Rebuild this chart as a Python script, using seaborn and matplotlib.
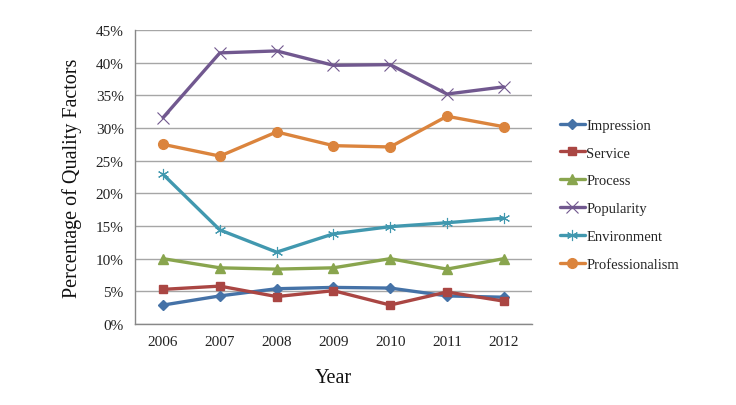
import matplotlib
matplotlib.use("Agg")
import matplotlib.pyplot as plt
import seaborn as sns
import pandas as pd
import numpy as np
from matplotlib.ticker import FixedLocator

years = ["2006", "2007", "2008", "2009", "2010", "2011", "2012"]
impression = [2.9, 4.3, 5.4, 5.6, 5.5, 4.3, 4.1]
service = [5.3, 5.8, 4.2, 5.1, 2.9, 4.9, 3.5]
process = [10.0, 8.6, 8.4, 8.6, 10.0, 8.4, 10.0]
popularity = [31.6, 41.5, 41.8, 39.6, 39.7, 35.2, 36.3]
environment = [22.9, 14.4, 11.0, 13.8, 14.9, 15.5, 16.2]
professionalism = [27.5, 25.7, 29.4, 27.3, 27.1, 31.8, 30.2]

series_names = ["Impression", "Service", "Process", "Popularity", "Environment", "Professionalism"]
series_vals = [impression, service, process, popularity, environment, professionalism]
colors = ["#4572A7", "#AA4643", "#89A54E", "#71588F", "#4198AF", "#DB843D"]
markers = ["D", "s", "^", "x", (6, 2, 0), "o"]
msizes = [5, 6, 7, 8, 8, 7]
mews = [1.0, 1.0, 1.0, 0.8, 0.8, 1.0]

rows = []
for name, vals in zip(series_names, series_vals):
    for i, (y, v) in enumerate(zip(years, vals)):
        rows.append({"Year": y, "pos": i, "Value": v, "Series": name})
df = pd.DataFrame(rows)

sns.set_theme(style="white")
plt.rcParams["font.family"] = ["Liberation Serif", "DejaVu Serif"]

fig = plt.figure(figsize=(7.36, 4.06), dpi=100)
fig.patch.set_facecolor("white")
ax = fig.add_axes([0.183, 0.1995, 0.54, 0.7241])

for name, c, m, ms, mew in zip(series_names, colors, markers, msizes, mews):
    sub = df[df["Series"] == name]
    sns.lineplot(data=sub, x="pos", y="Value", ax=ax, color=c, marker=m,
                 markersize=ms, linewidth=2.4, label=name,
                 markeredgecolor=c, markeredgewidth=mew,
                 estimator=None, sort=False)

ax.set_xlim(-0.5, len(years) - 0.5)
ax.set_ylim(0, 45)
ax.set_yticks(np.arange(0, 46, 5))
ax.set_yticklabels([f"{v}%" for v in range(0, 46, 5)])
ax.set_xticks(range(len(years)))
ax.set_xticklabels(years)
ax.xaxis.set_minor_locator(FixedLocator(np.arange(-0.5, len(years), 1.0)))
ax.tick_params(axis="x", which="major", length=0, pad=8, labelsize=11, labelcolor="#222222")
ax.tick_params(axis="x", which="minor", length=5, color="#888888", width=1, direction="out")
ax.tick_params(axis="y", which="major", length=4, color="#888888", labelsize=11, pad=4, labelcolor="#222222")

ax.grid(axis="y", color="#A6A6A6", linewidth=1)
ax.set_axisbelow(True)
for s in ["top", "right"]:
    ax.spines[s].set_visible(False)
for s in ["left", "bottom"]:
    ax.spines[s].set_color("#888888")
    ax.spines[s].set_linewidth(1)

ax.set_xlabel("Year", fontsize=14.5, labelpad=14, color="#111111")
ax.set_ylabel("Percentage of Quality Factors", fontsize=14.5, labelpad=10, color="#111111")

leg = ax.legend(loc="center left", bbox_to_anchor=(1.07, 0.44), frameon=False,
                fontsize=10.5, handlelength=1.7, handletextpad=0.1, labelspacing=1.0,
                borderaxespad=0, borderpad=0)

fig.savefig("out.png", dpi=100, facecolor="white")
